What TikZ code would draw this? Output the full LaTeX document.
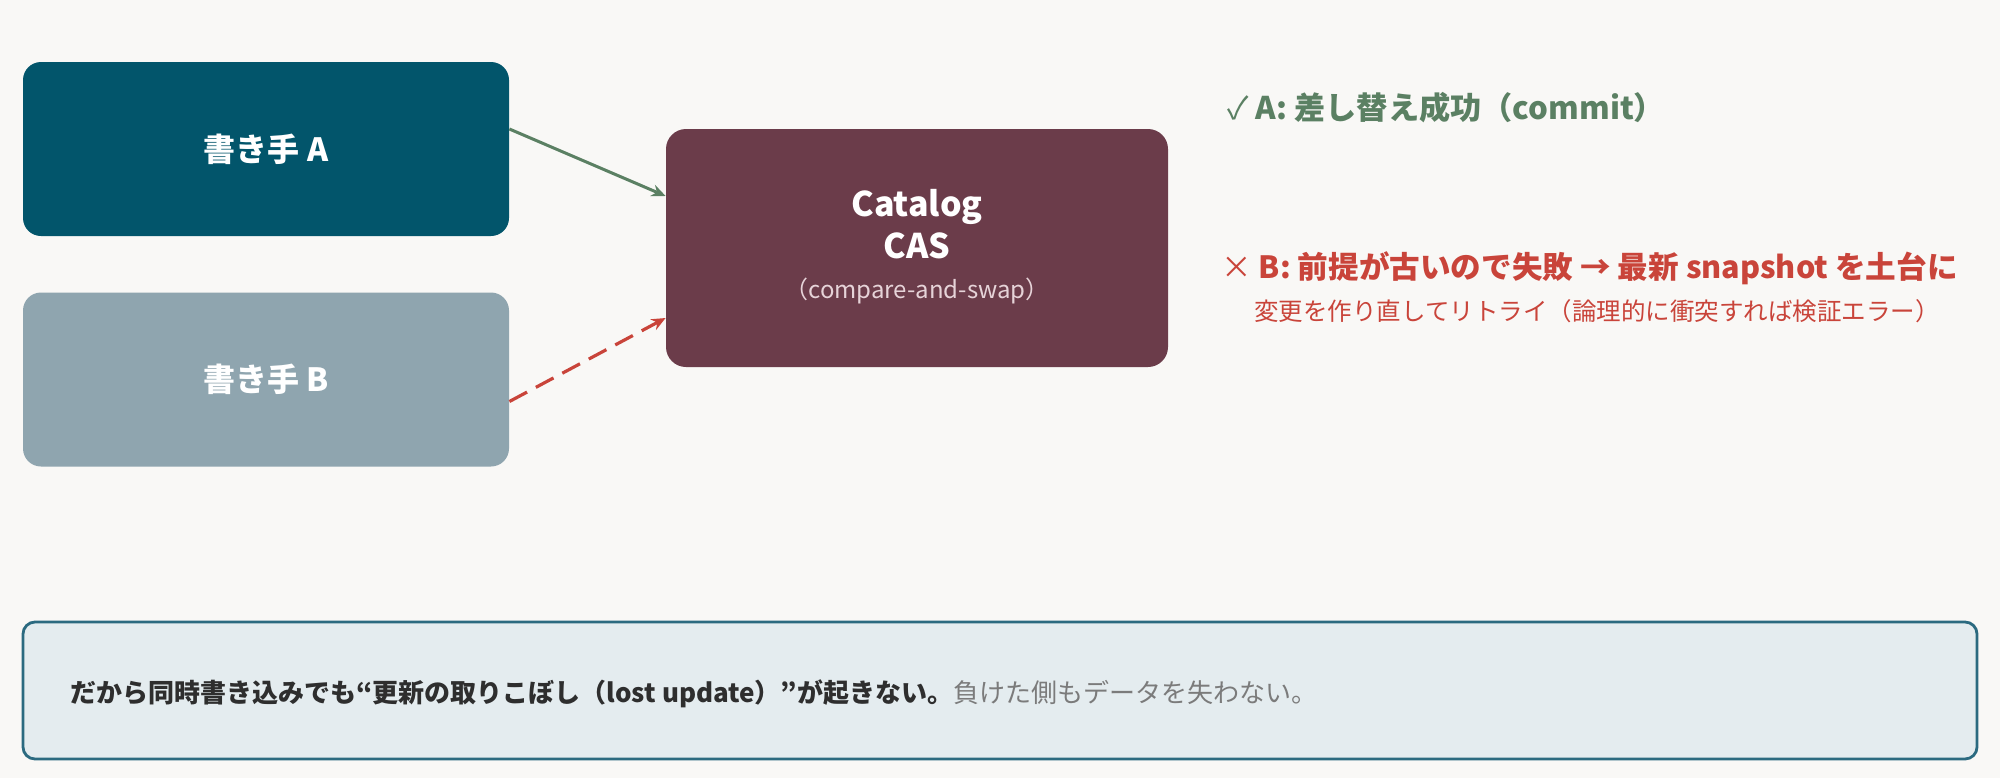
\documentclass[tikz,border=0pt]{standalone}
\usepackage{fontspec}
\setmainfont{Noto Sans CJK JP}
\usetikzlibrary{arrows.meta,calc}
\definecolor{bgc}{HTML}{F9F8F6}
\definecolor{colA}{HTML}{02556B}
\definecolor{colB}{HTML}{8FA5AF}
\definecolor{colC}{HTML}{6B3C4A}
\definecolor{okc}{HTML}{5B8063}
\definecolor{errc}{HTML}{C9443A}
\definecolor{notefill}{HTML}{E4ECEF}
\definecolor{noteline}{HTML}{2B6A80}
\definecolor{subc}{HTML}{E6D3D8}
\definecolor{darktext}{HTML}{2E2E2E}
\definecolor{graytext}{HTML}{7B7B7B}
\tikzset{
  writer/.style={rounded corners=9pt, minimum width=243pt, minimum height=87pt, text=white, font=\bfseries\fontsize{16}{19}\selectfont},
  casbox/.style={rounded corners=10pt, fill=colC, minimum width=251pt, minimum height=119pt, text=white, align=center, font=\fontsize{17}{20}\selectfont},
  okarrow/.style={draw=okc, line width=1.5pt, -{Stealth[length=7pt,width=6pt]}},
  errarrow/.style={draw=errc, line width=1.6pt, dash pattern=on 10pt off 5pt, -{Stealth[length=7pt,width=6pt]}},
  note/.style={rounded corners=6pt, fill=notefill, draw=noteline, line width=1.4pt, minimum width=977pt, minimum height=68.5pt},
  lbl/.style={anchor=west, inner sep=0pt}
}
\begin{document}
\begin{tikzpicture}[x=0.5pt,y=-0.5pt]
\fill[bgc] (0,0) rectangle (2000,778);
\useasboundingbox (0,0) rectangle (2000,778);
\node[writer, fill=colA] (A) at (266,149) {書き手 A};
\node[writer, fill=colB] (B) at (266,379.5) {書き手 B};
\node[casbox] (C) at (917,248) {};
\node[text=white, font=\bfseries\fontsize{17}{20}\selectfont] (C1) at (917,207) {Catalog};
\node[text=white, font=\bfseries\fontsize{17}{20}\selectfont] (C2) at (917,246) {CAS};
\node[text=subc, font=\fontsize{12}{15}\selectfont] (C3) at (917,291) {（compare-and-swap）};
\draw[okarrow] ([yshift=10pt]A.east) -- ([yshift=26pt]C.west);
\draw[errarrow] ([yshift=-11pt]B.east) -- ([yshift=-35pt]C.west);
\node[lbl, text=okc, font=\fontsize{15.6}{18}\selectfont] (tA) at (1227,108) {✓ \textbf{A: 差し替え成功（commit）}};
\node[lbl, text=errc, font=\fontsize{15.3}{18}\selectfont] (tB1) at (1221,268) {× \textbf{B: 前提が古いので失敗 → 最新 snapshot を土台に}};
\node[lbl, text=errc, font=\fontsize{12.25}{15}\selectfont] (tB2) at (1254,311) {変更を作り直してリトライ（論理的に衝突すれば検証エラー）};
\node[note] (N) at (1000,690.5) {};
\node[lbl, font=\fontsize{13}{16}\selectfont] (tN) at (70,694) {\textcolor{darktext}{\bfseries だから同時書き込みでも“更新の取りこぼし（lost update）”が起きない。}\textcolor{graytext}{負けた側もデータを失わない。}};
\end{tikzpicture}
\end{document}
